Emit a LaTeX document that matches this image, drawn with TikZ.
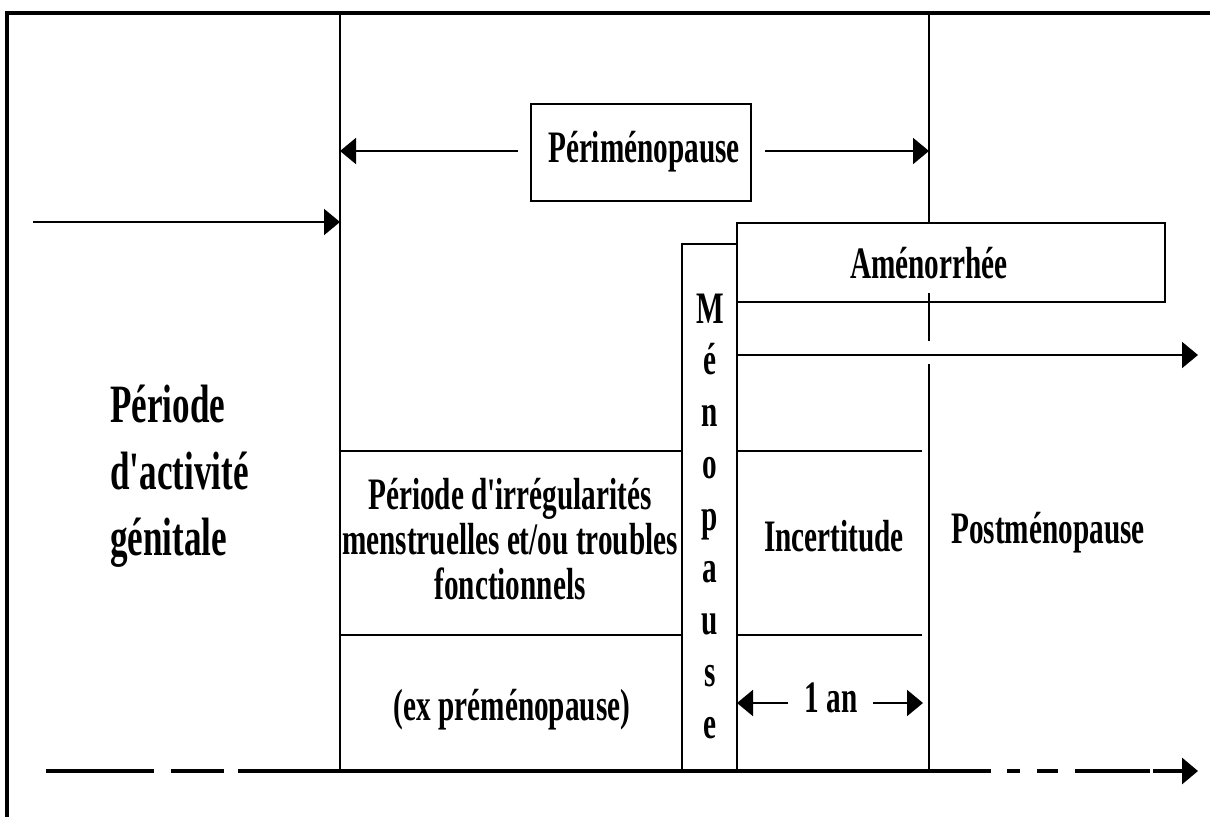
\documentclass[tikz,border=0pt]{standalone}
\usepackage{fontspec}
\newfontfamily\labfont{Liberation Serif}[FakeStretch=0.65]
\usetikzlibrary{arrows.meta}
\tikzset{
  ln/.style={line width=2pt, line cap=butt, draw=black},
  thick ln/.style={line width=3.2pt, line cap=butt, draw=black},
  arr/.style={ln, -{Triangle[length=16pt,width=26pt]}},
  lbl/.style={font=\labfont\bfseries\fontsize{45}{50}\selectfont, inner sep=0pt, anchor=base},
  biglbl/.style={font=\labfont\bfseries\fontsize{54}{60}\selectfont, inner sep=0pt, anchor=base west},
  boxed/.style={ln, draw=black}
}
\begin{document}
\begin{tikzpicture}[x=1pt,y=-1pt]
\useasboundingbox (0,0) rectangle (1210,817);
% frame
\draw[thick ln] (7,817) -- (7,13) -- (1210,13);
% coordinates
\coordinate (lt) at (340,13);
\coordinate (lb) at (340,771);
\coordinate (rt) at (929,13);
\coordinate (ra) at (929,223);
\coordinate (rm1) at (929,293);
\coordinate (rm2) at (929,341);
\coordinate (rm3) at (929,364);
\coordinate (rb) at (929,771);
% main verticals
\draw[ln] (lt) -- (lb);
\draw[ln] (rt) -- (ra);
\draw[ln] (rm1) -- (rm2);
\draw[ln] (rm3) -- (rb);
% Perimenopause box and arrows
\node[boxed, minimum width=220pt, minimum height=97pt, inner sep=0pt] (pbox) at (641,152.5) {};
\node[lbl] (peri) at (644,162) {Périménopause};
\coordinate (pl) at (518,151);
\coordinate (pr) at (765,151);
\coordinate (plt) at (340,151);
\coordinate (prt) at (929,151);
\draw[arr] (pl) -- (plt);
\draw[arr] (pr) -- (prt);
% left long arrow
\coordinate (la0) at (33,222);
\coordinate (la1) at (340,222);
\draw[arr] (la0) -- (la1);
% Amenorrhee box
\node[boxed, minimum width=428pt, minimum height=79pt, inner sep=0pt] (abox) at (951,262.5) {};
\node[lbl] (amen) at (929,278) {Aménorrhée};
% menopause column
\coordinate (mc1) at (682,771);
\coordinate (mc2) at (682,244);
\coordinate (mc3) at (737,244);
\coordinate (mc4) at (737,223);
\coordinate (mc5) at (737,771);
\draw[ln] (mc1) -- (mc2) -- (mc3);
\draw[ln] (mc4) -- (mc5);
\foreach \l [count=\i from 0] in {M,é,n,o,p,a,u,s,e}
  \node[lbl] (m\i) at (710,323+51.9*\i) {\l};
% horizontal separators
\draw[ln] (340,451) -- (682,451);
\draw[ln] (737,451) -- (922,451);
\draw[ln] (340,635) -- (682,635);
\draw[ln] (737,635) -- (922,635);
% arrow after amenorrhee
\coordinate (aa0) at (737,355);
\coordinate (aa1) at (1198,355);
\draw[arr] (aa0) -- (aa1);
% 1 an
\node[lbl] (an) at (831,712) {1 an};
\coordinate (an0) at (788,703);
\coordinate (an1) at (737,703);
\coordinate (an2) at (873,703);
\coordinate (an3) at (923,703);
\draw[arr] (an0) -- (an1);
\draw[arr] (an2) -- (an3);
% bottom timeline
\draw[thick ln] (46,771) -- (154,771);
\draw[thick ln] (171,771) -- (224,771);
\draw[thick ln] (238,771) -- (991,771);
\draw[thick ln] (1007,771) -- (1020,771);
\draw[thick ln] (1037,771) -- (1058,771);
\draw[thick ln] (1075,771) -- (1150,771);
\coordinate (bt0) at (1153,771);
\coordinate (bt1) at (1198,771);
\draw[thick ln, -{Triangle[length=16pt,width=26pt]}] (bt0) -- (bt1);
% texts
\node[biglbl] (pa1) at (110,422) {Période};
\node[biglbl] (pa2) at (110,489) {d'activité};
\node[biglbl] (pa3) at (110,555) {génitale};
\node[lbl] (ir1) at (510,509) {Période d'irrégularités};
\node[lbl] (ir2) at (510,554) {menstruelles et/ou troubles};
\node[lbl] (ir3) at (510,599) {fonctionnels};
\node[lbl] (expre) at (512,720) {(ex préménopause)};
\node[lbl] (incert) at (834,551) {Incertitude};
\node[lbl] (post) at (1048,543) {Postménopause};
\end{tikzpicture}
\end{document}
